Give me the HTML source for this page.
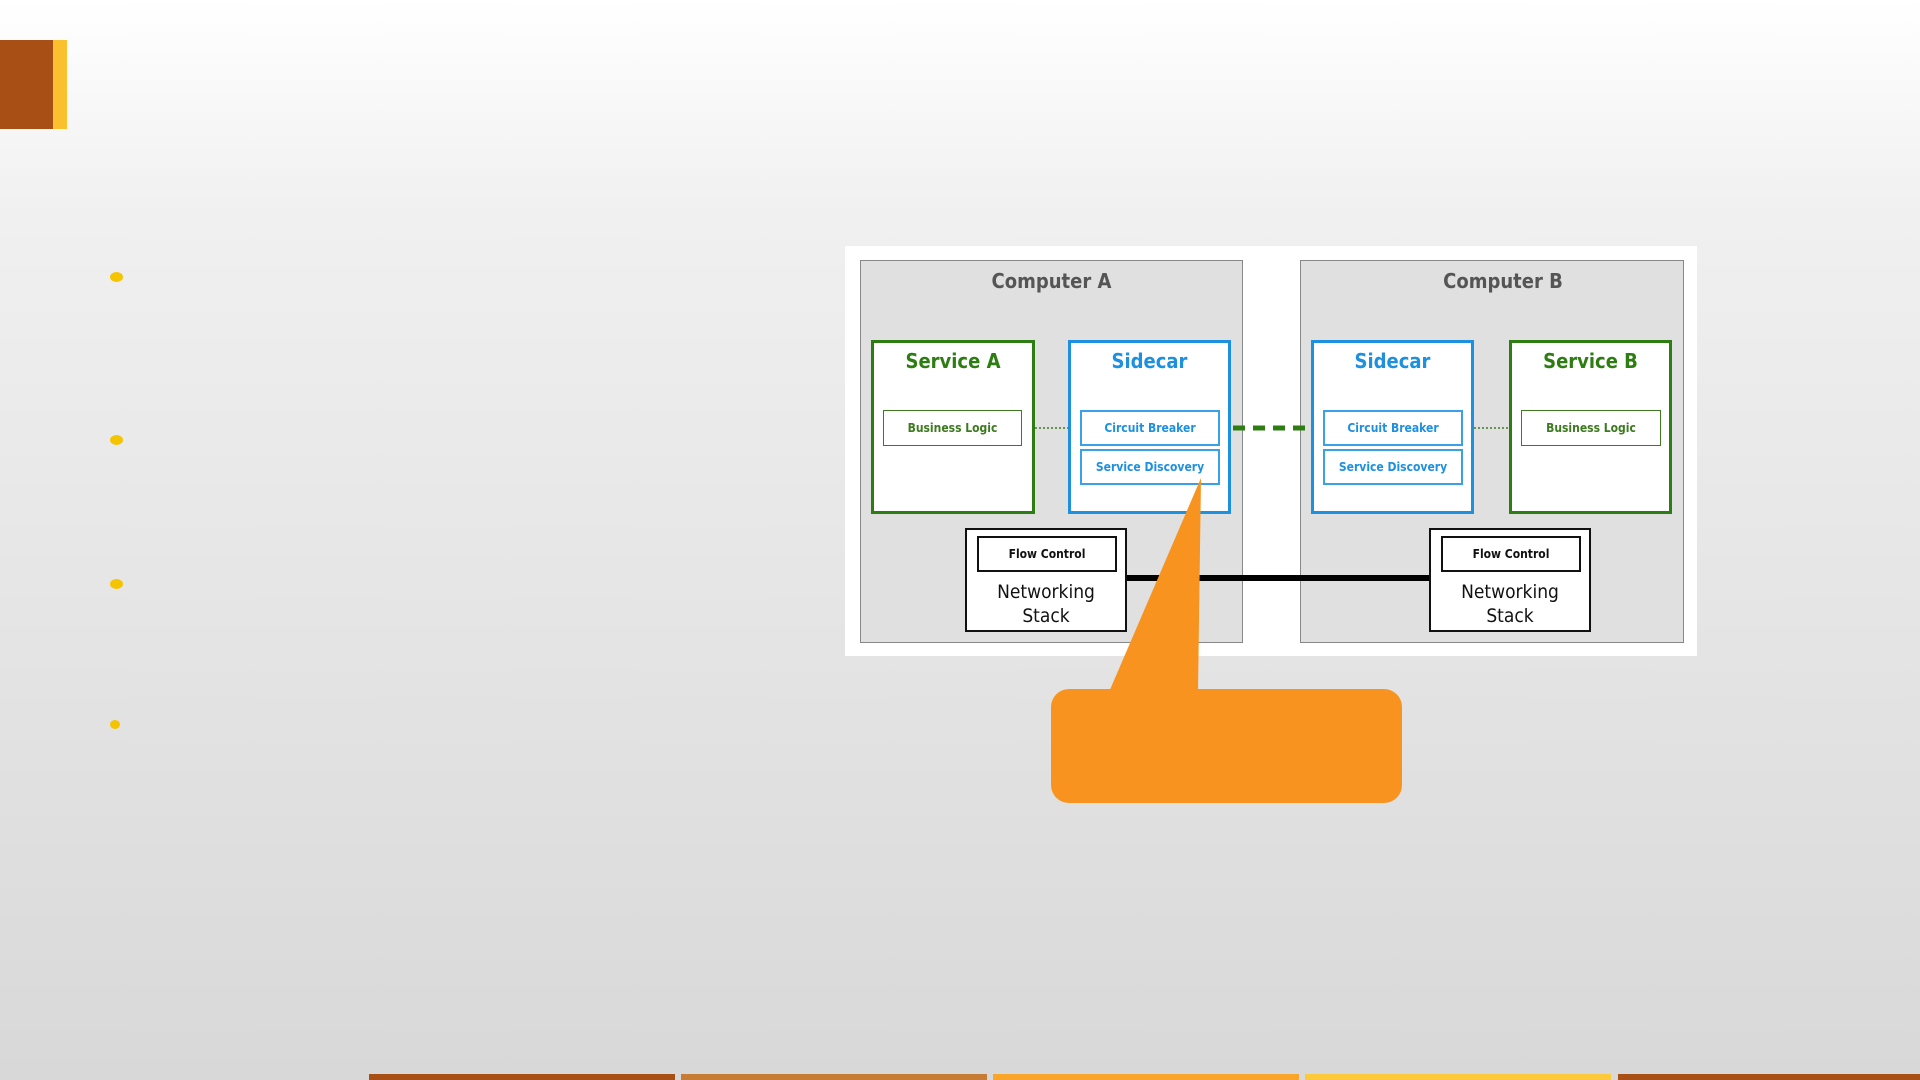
<!DOCTYPE html>
<html><head><style>
*{margin:0;padding:0;box-sizing:border-box}
body{width:1920px;height:1080px;position:relative;overflow:hidden;background:linear-gradient(#ffffff 0%,#f0f0f0 20%,#d8d8d8 100%);font-family:"DejaVu Sans Condensed","DejaVu Sans","Liberation Sans",sans-serif}
.a{position:absolute}
.box{position:absolute;background:#fff}
.t{position:absolute;left:0;right:0;text-align:center;font-weight:bold}
.sm{position:absolute;border:2px solid;background:#fff;font-size:12px;font-weight:bold;display:flex;align-items:center;justify-content:center}
.dot{position:absolute;background:#f5c400;border-radius:50%}
</style></head><body>
<div class="a" style="left:0;top:40px;width:53px;height:89px;background:#a84f15"></div>
<div class="a" style="left:53px;top:40px;width:14px;height:89px;background:#fbc02d"></div>
<div class="dot" style="left:110px;top:272px;width:13px;height:10px"></div>
<div class="dot" style="left:110px;top:435px;width:13px;height:10px"></div>
<div class="dot" style="left:110px;top:579px;width:13px;height:10px"></div>
<div class="dot" style="left:110px;top:720px;width:10px;height:9px"></div>

<div class="a" style="left:845px;top:246px;width:852px;height:410px;background:#fff"></div>
<div class="a" style="left:860px;top:260px;width:383px;height:383px;background:#e0e0e0;border:1.5px solid #888"><div class="t" style="top:8px;font-size:20px;color:#555">Computer A</div></div>
<div class="a" style="left:1300px;top:260px;width:384px;height:383px;background:#e0e0e0;border:1.5px solid #888"><div class="t" style="top:8px;left:22px;font-size:20px;color:#555">Computer B</div></div>

<div class="box" style="left:871px;top:340px;width:164px;height:174px;border:3px solid #2e7d12"><div class="t" style="top:6px;font-size:20px;color:#2e7d12">Service A</div></div>
<div class="box" style="left:1068px;top:340px;width:163px;height:174px;border:3px solid #1e90e0"><div class="t" style="top:6px;font-size:20px;color:#1e90e0">Sidecar</div></div>
<div class="box" style="left:1311px;top:340px;width:163px;height:174px;border:3px solid #1e90e0"><div class="t" style="top:6px;font-size:20px;color:#1e90e0">Sidecar</div></div>
<div class="box" style="left:1509px;top:340px;width:163px;height:174px;border:3px solid #2e7d12"><div class="t" style="top:6px;font-size:20px;color:#2e7d12">Service B</div></div>

<div class="sm" style="left:883px;top:410px;width:139px;height:36px;border-color:#3d7a20;border-width:1.5px;color:#3d7a20">Business Logic</div>
<div class="sm" style="left:1080px;top:410px;width:140px;height:36px;border-color:#3aa0e8;color:#1e90e0">Circuit Breaker</div>
<div class="sm" style="left:1080px;top:449px;width:140px;height:36px;border-color:#3aa0e8;color:#1e90e0">Service Discovery</div>
<div class="sm" style="left:1323px;top:410px;width:140px;height:36px;border-color:#3aa0e8;color:#1e90e0">Circuit Breaker</div>
<div class="sm" style="left:1323px;top:449px;width:140px;height:36px;border-color:#3aa0e8;color:#1e90e0">Service Discovery</div>
<div class="sm" style="left:1521px;top:410px;width:140px;height:36px;border-color:#3d7a20;border-width:1.5px;color:#3d7a20">Business Logic</div>

<div class="box" style="left:965px;top:528px;width:162px;height:104px;border:2px solid #111">
 <div class="sm" style="left:10px;top:6px;width:140px;height:36px;border-color:#111;color:#111">Flow Control</div>
 <div class="t" style="top:50px;font-size:19px;font-weight:normal;line-height:24px;color:#111">Networking<br>Stack</div></div>
<div class="box" style="left:1429px;top:528px;width:162px;height:104px;border:2px solid #111">
 <div class="sm" style="left:10px;top:6px;width:140px;height:36px;border-color:#111;color:#111">Flow Control</div>
 <div class="t" style="top:50px;font-size:19px;font-weight:normal;line-height:24px;color:#111">Networking<br>Stack</div></div>

<svg class="a" style="left:0;top:0" width="1920" height="1080">
<line x1="1035" y1="428" x2="1068" y2="428" stroke="#3d7a20" stroke-width="1.5" stroke-dasharray="2,2"/>
<line x1="1474" y1="428" x2="1509" y2="428" stroke="#3d7a20" stroke-width="1.5" stroke-dasharray="2,2"/>
<line x1="1233" y1="428" x2="1309" y2="428" stroke="#2e7d12" stroke-width="5" stroke-dasharray="12,8"/>
<line x1="1127" y1="578" x2="1429" y2="578" stroke="#000" stroke-width="6"/>
<polygon points="1201,478 1109,692 1198,692" fill="#f7931e"/>
<rect x="1051" y="689" width="351" height="114" rx="18" fill="#f7931e"/>
<rect x="369" y="1074" width="306" height="6" fill="#a84f15"/>
<rect x="681" y="1074" width="306" height="6" fill="#c67c35"/>
<rect x="993" y="1074" width="306" height="6" fill="#f9a52a"/>
<rect x="1305" y="1074" width="306" height="6" fill="#fbc93a"/>
<rect x="1618" y="1074" width="302" height="6" fill="#a84f15"/>
</svg>
</body></html>
